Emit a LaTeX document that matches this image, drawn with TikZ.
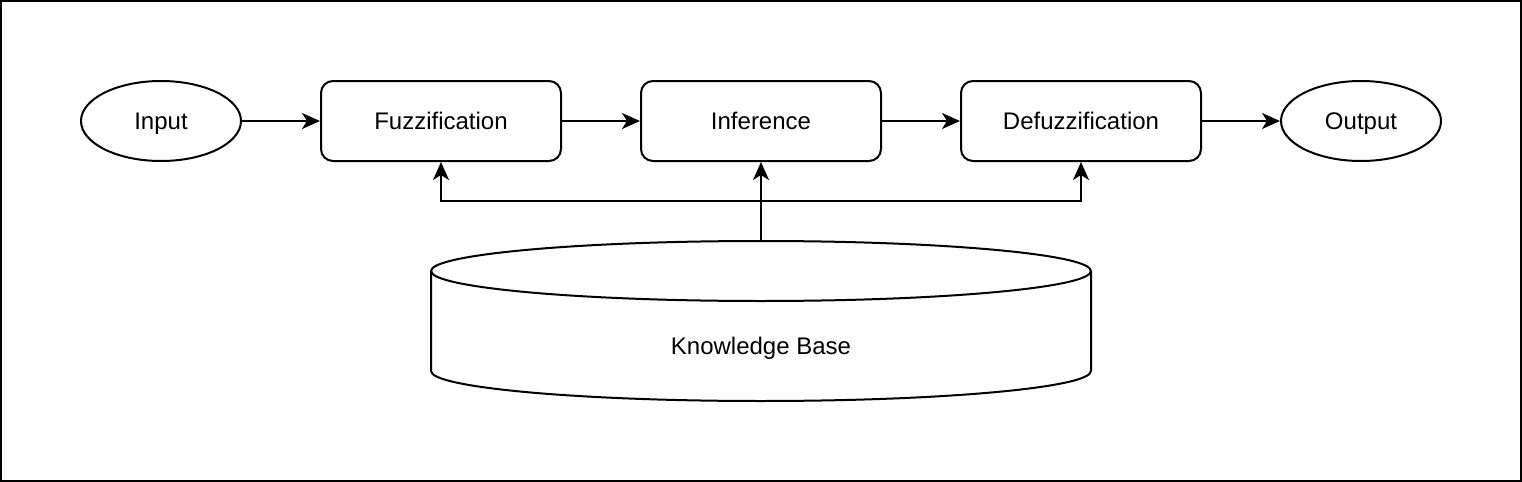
\documentclass[tikz,border=0pt]{standalone}
\usepackage{fontspec}
\setmainfont{Liberation Sans}
\usetikzlibrary{shapes.geometric,arrows.meta}
\tikzset{
  procBox/.style={draw, rounded corners=6pt, minimum width=120pt, minimum height=40pt, inner sep=0pt},
  termEllipse/.style={draw, ellipse, minimum width=80pt, minimum height=40pt, inner sep=0pt},
  flowArrow/.style={-{Stealth[length=9pt,width=8pt,inset=2.5pt]}},
}
\begin{document}
\begin{tikzpicture}[x=0.5pt, y=-0.5pt, line width=1pt, font=\fontsize{12}{14}\selectfont, text height=9.6pt, text depth=1pt]
            \useasboundingbox (0,0) rectangle (1522,482);
            \draw (1,1) rectangle (1521,481);

            \node[termEllipse] (input) at (161,121) {Input};
            \node[procBox] (fuzz) at (441,121) {Fuzzification};
            \node[procBox] (infer) at (761,121) {Inference};
            \node[procBox] (defuzz) at (1081,121) {Defuzzification};
            \node[termEllipse] (output) at (1361,121) {Output};

            \draw (431,271) -- (431,371) arc[start angle=180, end angle=0, x radius=330, y radius=30] -- (1091,271);
            \draw (761,271) ellipse [x radius=330, y radius=30];
            \node (kb) at (761,346) {Knowledge Base};
            \coordinate (kbTop) at (761,241);
            \coordinate (kbSplit) at (761,201);

            \draw[flowArrow] (input) -- (fuzz);
            \draw[flowArrow] (fuzz) -- (infer);
            \draw[flowArrow] (infer) -- (defuzz);
            \draw[flowArrow] (defuzz) -- (output);
            \draw[flowArrow] (kbTop) -- (infer);
            \draw[flowArrow] (kbSplit) -| (fuzz);
            \draw[flowArrow] (kbSplit) -| (defuzz);
        \end{tikzpicture}
\end{document}
